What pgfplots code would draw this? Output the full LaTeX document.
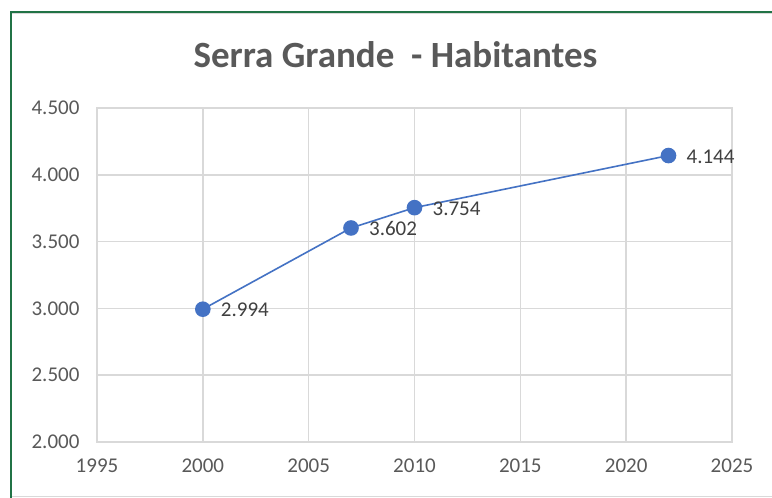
\documentclass[border=0pt]{standalone}
\usepackage{pgfplots}
\pgfplotsset{compat=1.18}
\usepackage{fontspec}
\setmainfont{Carlito}
\definecolor{excelgreen}{HTML}{217346}
\definecolor{gridgray}{HTML}{D9D9D9}
\definecolor{textgray}{HTML}{595959}
\definecolor{labelgray}{HTML}{404040}
\definecolor{serieblue}{HTML}{4472C4}
\begin{document}
\begin{tikzpicture}[x=1pt,y=1pt]
\useasboundingbox (0,0) rectangle (772,498);
\begin{scope}
\clip (0,0) rectangle (772,498);
\fill[white] (0,0) rectangle (772,498);
\draw[gridgray, line width=1.2pt] (10,1.3) -- (790,1.3);
\draw[gridgray, line width=1pt] (10,484.5) -- (790,484.5);
\draw[excelgreen, line width=2pt] (11,-10) -- (11,486) -- (790,486);
\end{scope}
\node[font=\bfseries\fontsize{37}{44}\selectfont, text=textgray, anchor=base] at (395.5,430) {Serra Grande\ \ - Habitantes};
\begin{axis}[
  at={(97pt,56pt)}, anchor=south west,
  scale only axis, width=635pt, height=334pt,
  xmin=1995, xmax=2025, ymin=2000, ymax=4500,
  xtick={1995,2000,...,2025}, ytick={2000,2500,...,4500},
  grid=major, major grid style={gridgray, line width=1.5pt},
  axis line style={gridgray, line width=1.5pt},
  major tick length=0pt,
  tick label style={font=\fontsize{21}{24}\selectfont, text=textgray},
  /pgf/number format/assume math mode=true,
  xticklabel style={/pgf/number format/1000 sep={}, yshift=-13pt},
  yticklabel style={/pgf/number format/.cd, 1000 sep={.}, fixed, precision=0, /tikz/.cd, xshift=-14pt},
  clip=false,
  nodes near coords,
  every node near coord/.append style={font=\fontsize{21}{24}\selectfont, text=labelgray, anchor=west, xshift=14pt, yshift=-1pt,
    /pgf/number format/.cd, 1000 sep={.}, fixed, precision=0, assume math mode=true},
]
\addplot[color=serieblue, line width=1.6pt, mark=*, mark size=7pt, mark options={fill=serieblue, draw=serieblue}] coordinates {
(2000,2994) (2007,3602) (2010,3754) (2022,4144)
};
\end{axis}
\end{tikzpicture}
\end{document}
